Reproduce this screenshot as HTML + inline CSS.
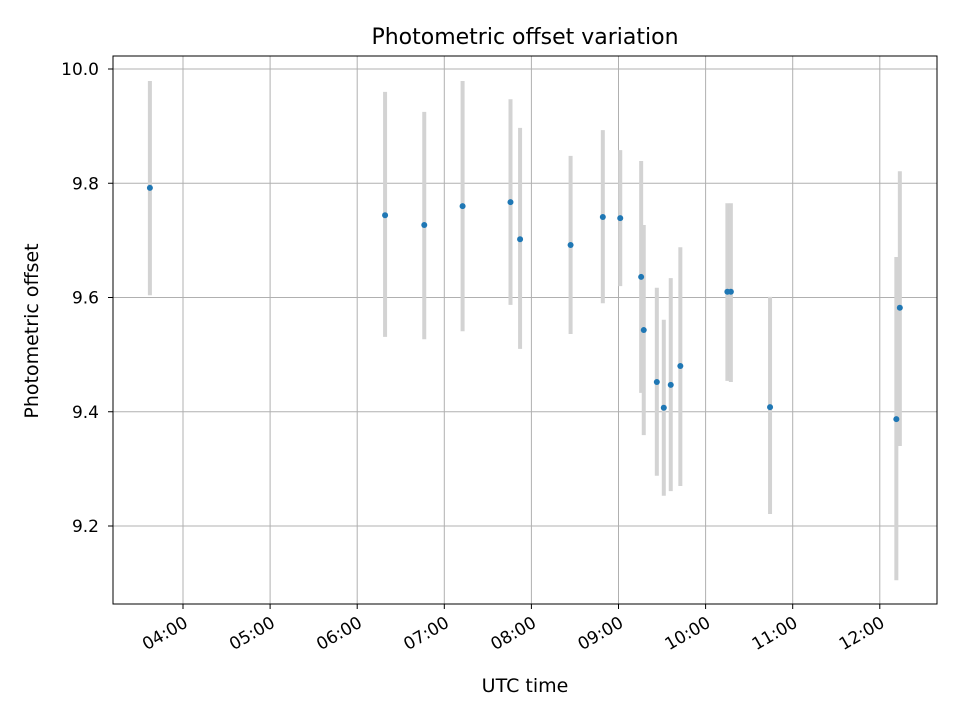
<!DOCTYPE html>
<html><head><meta charset="utf-8"><style>
body{margin:0;background:#fff}
svg text{font-family:"DejaVu Sans","Liberation Sans",sans-serif;fill:#000}
</style></head><body>
<svg id="chart" width="960" height="720" viewBox="0 0 960 720" xmlns="http://www.w3.org/2000/svg">
<rect width="960" height="720" fill="#fff"/>
<text x="525" y="44" font-size="22" text-anchor="middle">Photometric offset variation</text>
<g id="grid"></g><g id="bars"></g><g id="pts"></g><g id="axes"></g>
<rect x="113" y="56" width="824" height="548" fill="none" stroke="#000" stroke-width="1"/>
<text x="525" y="692" font-size="19" text-anchor="middle">UTC time</text>
<text transform="translate(38,331) rotate(-90)" font-size="19" text-anchor="middle">Photometric offset</text>
</svg>
<script>
const times=[3.62,6.32,6.77,7.21,7.76,7.87,8.45,8.82,9.02,9.26,9.29,9.44,9.52,9.60,9.71,10.25,10.29,10.74,12.19,12.23];
const values=[9.792,9.744,9.727,9.760,9.767,9.702,9.692,9.741,9.739,9.636,9.543,9.452,9.407,9.447,9.480,9.610,9.610,9.408,9.387,9.582];
const errHigh=[9.979,9.960,9.925,9.979,9.947,9.897,9.848,9.893,9.858,9.839,9.727,9.617,9.561,9.634,9.688,9.765,9.765,9.601,9.671,9.821];
const errLow=[9.604,9.531,9.527,9.541,9.587,9.510,9.536,9.590,9.620,9.433,9.359,9.288,9.253,9.261,9.270,9.454,9.452,9.221,9.105,9.340];
const yTicks=[10.0,9.8,9.6,9.4,9.2];
const xTicks=[4,5,6,7,8,9,10,11,12];
const xTickLabels=["04:00","05:00","06:00","07:00","08:00","09:00","10:00","11:00","12:00"];
const X=t=>183+(t-4)*87.1;
const Y=v=>69+(10-v)*571.25;
const NS="http://www.w3.org/2000/svg";
function mk(tag,attrs,parent){const e=document.createElementNS(NS,tag);for(const k in attrs)e.setAttribute(k,attrs[k]);document.getElementById(parent).appendChild(e);return e;}
xTicks.forEach((t,i)=>{
 const g=mk('line',{x1:X(t),x2:X(t),y1:56,y2:604,stroke:'#b0b0b0','stroke-width':1},'grid');
 
 
 const tk=mk('line',{x1:X(t),x2:X(t),y1:604,y2:609,stroke:'#000'},'axes');
 
 
 const tx=mk('text',{'font-size':17,'text-anchor':'end',transform:`translate(${X(t)+6},${626}) rotate(-30)`},'axes');
 tx.textContent=xTickLabels[i];
 
 
});
yTicks.forEach(v=>{
 const g=mk('line',{x1:113,x2:937,y1:Y(v),y2:Y(v),stroke:'#b0b0b0','stroke-width':1},'grid');
 
 
 const tk=mk('line',{x1:108,x2:113,y1:Y(v),y2:Y(v),stroke:'#000'},'axes');
 
 
 const tx=mk('text',{x:99,y:Y(v)+6,'font-size':17,'text-anchor':'end'},'axes');
 tx.textContent=v.toFixed(1);
 
 
});
times.forEach((t,i)=>{
 const b=mk('line',{x1:X(t),x2:X(t),y1:Y(errHigh[i]),y2:Y(errLow[i]),stroke:'#d3d3d3','stroke-width':4},'bars');
 
 
 const p=mk('circle',{cx:X(t),cy:Y(values[i]),r:3,fill:'#1f77b4'},'pts');
 
 
});
</script>
</body></html>
